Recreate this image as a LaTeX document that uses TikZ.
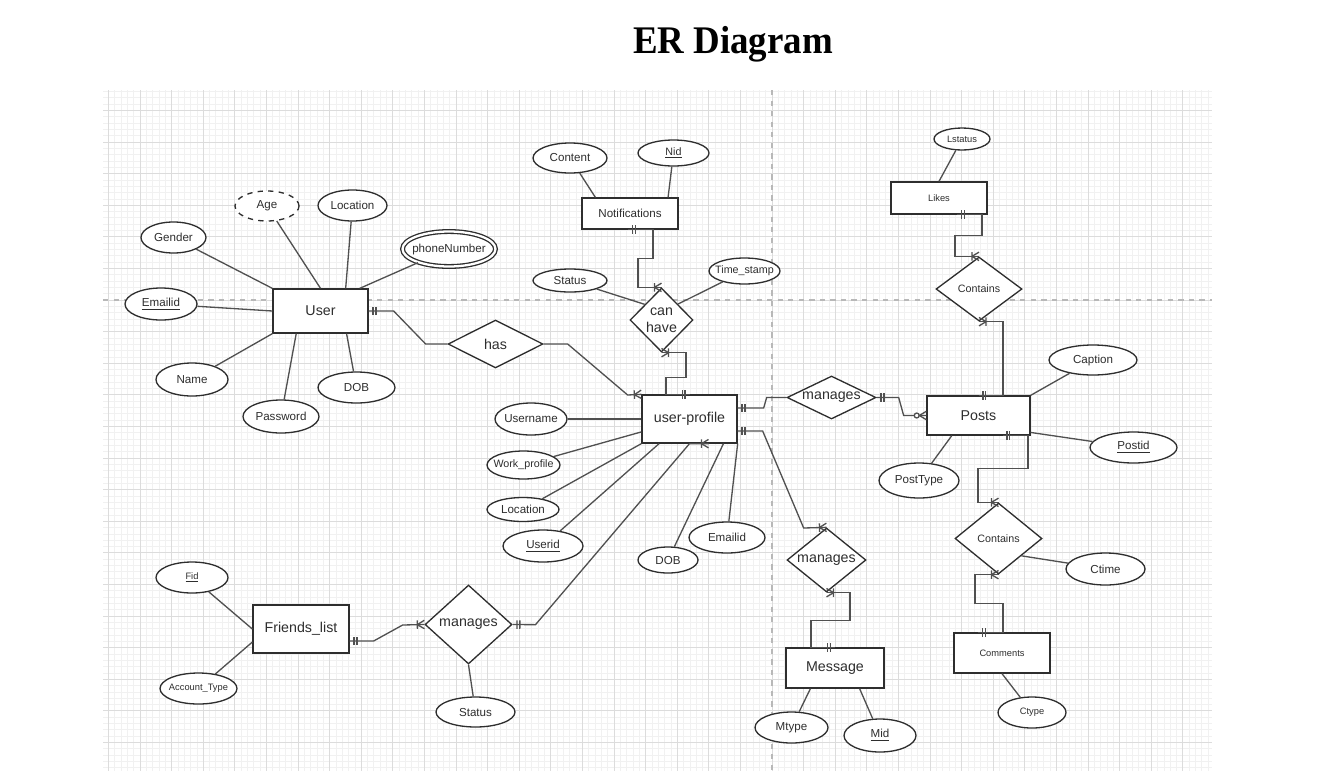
\documentclass[tikz,border=0pt]{standalone}
\usepackage{fontspec}
\usepackage{graphicx}
\setmainfont{Liberation Sans}
\newfontfamily\titlefont{Liberation Serif}
\usetikzlibrary{shapes.geometric,calc,decorations.markings}
\definecolor{cink}{HTML}{2E2E2E}
\definecolor{cwire}{HTML}{505050}
\definecolor{cminor}{HTML}{F1F1F1}
\definecolor{cmajor}{HTML}{DCDCDC}
\definecolor{cguide}{HTML}{B8B8B8}
\newcommand{\bigtxt}{\fontsize{8.1}{9.6}\selectfont}
\newcommand{\midtxt}{\fontsize{6.6}{8}\selectfont}
\newcommand{\smalltxt}{\fontsize{6.1}{7.3}\selectfont}
\newcommand{\tinytxt}{\fontsize{5.3}{6.4}\selectfont}
\tikzset{
  minorline/.style={draw=cminor, line width=0.4pt},
  majorline/.style={draw=cmajor, line width=0.5pt},
  guideline/.style={draw=cguide, line width=0.6pt, dashed},
  entity/.style={rectangle, draw=cink, line width=0.75pt, fill=white, text=cink, inner sep=0pt},
  relation/.style={diamond, draw=cink, line width=0.75pt, fill=white, text=cink, inner sep=0pt, align=center},
  attrlabel/.style={text=cink, font=\midtxt},
  attr/.style={ellipse, draw=cink, line width=0.75pt, fill=white, inner sep=0pt, label={[attrlabel]center:#1}},
  wire/.style={color=cwire, line width=0.75pt},
  tick/.style={draw=cwire, line width=0.75pt},
  one at start/.style={postaction={decorate, decoration={markings,
      mark=at position 2.5pt with {\draw[tick] (0,-2.4pt) -- (0,2.4pt);},
      mark=at position 4.1pt with {\draw[tick] (0,-2.4pt) -- (0,2.4pt);}}}},
  one at end/.style={postaction={decorate, decoration={markings,
      mark=at position -4.1pt with {\draw[tick] (0,-2.4pt) -- (0,2.4pt);},
      mark=at position -2.5pt with {\draw[tick] (0,-2.4pt) -- (0,2.4pt);}}}},
  many at start/.style={postaction={decorate, decoration={markings,
      mark=at position 4pt with {\draw[tick] (0,-2.4pt) -- (0,2.4pt) (-4pt,-2.4pt) -- (0,0) -- (-4pt,2.4pt);}}}},
  many at end/.style={postaction={decorate, decoration={markings,
      mark=at position -4pt with {\draw[tick] (0,-2.4pt) -- (0,2.4pt) (4pt,-2.4pt) -- (0,0) -- (4pt,2.4pt);}}}},
  zero many at end/.style={postaction={decorate, decoration={markings,
      mark=at position -4pt with {\draw[tick] (4pt,-2.4pt) -- (0,0) -- (4pt,2.4pt); \draw[tick, fill=white] (-1.5pt,0) circle (1.4pt);}}}}
}
\begin{document}
\begin{tikzpicture}[x=0.02cm, y=-0.02cm]
  \useasboundingbox (0,0) rectangle (1327,771);
  \foreach \k in {-105,...,69}
    \draw[minorline] (772+\k*6.32,90) -- (772+\k*6.32,771);
  \foreach \k in {-33,...,74}
    \draw[minorline] (103,300+\k*6.32) -- (1212,300+\k*6.32);
  \foreach \k in {-21,...,13}
    \draw[majorline] (772+\k*31.6,90) -- (772+\k*31.6,771);
  \foreach \k in {-6,...,14}
    \draw[majorline] (103,300+\k*31.6) -- (1212,300+\k*31.6);
  \draw[guideline] (772,90) -- (772,771);
  \draw[guideline] (103,300) -- (1212,300);

  \node[font=\titlefont\bfseries\fontsize{21}{25}\selectfont] (title) at (733,44) {\scalebox{1}[1.06]{ER Diagram}};

  \node[entity, minimum width=1.9cm, minimum height=0.88cm, font=\bigtxt] (user) at (320.5,311) {User};
  \node[entity, minimum width=1.92cm, minimum height=0.62cm, font=\midtxt] (notif) at (630,213.5) {Notifications};
  \node[entity, minimum width=1.9cm, minimum height=0.96cm, font=\bigtxt] (upro) at (689.5,419) {user-profile};
  \node[entity, minimum width=1.92cm, minimum height=0.64cm, font=\tinytxt] (likes) at (939,198) {Likes};
  \node[entity, minimum width=2.06cm, minimum height=0.78cm, font=\bigtxt] (posts) at (978.5,415.5) {Posts};
  \node[entity, minimum width=1.92cm, minimum height=0.96cm, font=\bigtxt] (friends) at (301,629) {Friends\_list};
  \node[entity, minimum width=1.96cm, minimum height=0.8cm, font=\bigtxt] (message) at (835,668) {Message};
  \node[entity, minimum width=1.92cm, minimum height=0.8cm, font=\tinytxt] (comments) at (1002,653) {Comments};

  \node[relation, minimum width=1.9cm, minimum height=0.96cm, aspect=2, font=\bigtxt] (has) at (495.5,344) {has};
  \node[relation, minimum width=1.26cm, minimum height=1.28cm, font=\bigtxt] (canhave) at (661.5,320) {can\\have};
  \node[relation, minimum width=1.78cm, minimum height=0.86cm, aspect=2, font=\bigtxt] (mgpost) at (831.5,397.5) {manages};
  \node[relation, minimum width=1.72cm, minimum height=1.28cm, font=\smalltxt] (ctlike) at (979,289) {Contains};
  \node[relation, minimum width=1.58cm, minimum height=1.28cm, aspect=1.2, font=\bigtxt] (mgmsg) at (826.5,560) {manages};
  \node[relation, minimum width=1.74cm, minimum height=1.42cm, font=\smalltxt] (ctcom) at (998.5,538.5) {Contains};
  \node[relation, minimum width=1.74cm, minimum height=1.58cm, font=\bigtxt] (mgfr) at (468.5,624.5) {manages};

  \node[attr=Age, dashed, minimum width=1.28cm, minimum height=0.6cm] (age) at (267,206) {};
  \node[attr=Location, minimum width=1.38cm, minimum height=0.62cm] (uloc) at (352.5,205.5) {};
  \node[attr=Gender, minimum width=1.3cm, minimum height=0.62cm] (gender) at (173.5,237.5) {};
  \node[attr=phoneNumber, double=white, double distance=1.3pt, minimum width=1.86cm, minimum height=0.7cm] (phone) at (449,249) {};
  \node[attr={\underline{Emailid}}, minimum width=1.44cm, minimum height=0.64cm] (uemail) at (161,304) {};
  \node[attr=Name, minimum width=1.44cm, minimum height=0.66cm] (name) at (192,379.5) {};
  \node[attr=Password, minimum width=1.52cm, minimum height=0.66cm] (password) at (281,416.5) {};
  \node[attr=DOB, minimum width=1.54cm, minimum height=0.62cm] (udob) at (356.5,387.5) {};
  \node[attr=Content, minimum width=1.48cm, minimum height=0.6cm] (content) at (570,158) {};
  \node[attr={\smalltxt\underline{Nid}}, minimum width=1.42cm, minimum height=0.52cm] (nid) at (673.5,153) {};
  \node[attr=Status, minimum width=1.48cm, minimum height=0.46cm] (nstatus) at (570,280.5) {};
  \node[attr={\smalltxt Time\_stamp}, minimum width=1.42cm, minimum height=0.52cm] (tstamp) at (744.5,271) {};
  \node[attr={\tinytxt Lstatus}, minimum width=1.12cm, minimum height=0.44cm] (lstatus) at (962,139) {};
  \node[attr=Caption, minimum width=1.76cm, minimum height=0.6cm] (caption) at (1093,360) {};
  \node[attr={\underline{Postid}}, minimum width=1.74cm, minimum height=0.62cm] (postid) at (1133.5,447.5) {};
  \node[attr=PostType, minimum width=1.6cm, minimum height=0.7cm] (posttype) at (919,480.5) {};
  \node[attr=Ctime, minimum width=1.58cm, minimum height=0.64cm] (ctime) at (1105.5,569) {};
  \node[attr={\tinytxt Ctype}, minimum width=1.36cm, minimum height=0.62cm] (ctype) at (1032,712.5) {};
  \node[attr=Mtype, minimum width=1.46cm, minimum height=0.62cm] (mtype) at (791.5,727.5) {};
  \node[attr={\underline{Mid}}, minimum width=1.44cm, minimum height=0.66cm] (mid) at (880,735.5) {};
  \node[attr=Username, minimum width=1.44cm, minimum height=0.64cm] (username) at (531,419) {};
  \node[attr={\smalltxt Work\_profile}, minimum width=1.46cm, minimum height=0.56cm] (workp) at (523.5,465) {};
  \node[attr=Location, minimum width=1.44cm, minimum height=0.48cm] (ploc) at (523,509.5) {};
  \node[attr={\underline{Userid}}, minimum width=1.6cm, minimum height=0.64cm] (userid) at (543,546) {};
  \node[attr=DOB, minimum width=1.2cm, minimum height=0.52cm] (pdob) at (668,560) {};
  \node[attr=Emailid, minimum width=1.52cm, minimum height=0.62cm] (pemail) at (727,537.5) {};
  \node[attr={\tinytxt\underline{Fid}}, minimum width=1.44cm, minimum height=0.62cm] (fid) at (192,577.5) {};
  \node[attr={\tinytxt Account\_Type}, minimum width=1.54cm, minimum height=0.62cm] (acctype) at (198.5,688.5) {};
  \node[attr=Status, minimum width=1.58cm, minimum height=0.6cm] (fstatus) at (475.5,712) {};

  \begin{scope}[wire]
    \draw (gender) -- (user.north west);
    \draw (age) -- (user.north);
    \draw (uloc) -- (user.42);
    \draw (phone) -- (user.30);
    \draw (uemail) -- (user.west);
    \draw (name) -- (user.south west);
    \draw (password) -- (user.223);
    \draw (udob) -- (user.319);
    \draw (content) -- (notif.155);
    \draw (nid) -- (notif.23);
    \draw (nstatus) -- (canhave.137);
    \draw (tstamp) -- (canhave.44);
    \draw (lstatus) -- (likes.north);
    \draw (caption) -- (posts.north east);
    \draw (postid) -- (posts.342);
    \draw (posttype) -- (posts.217);
    \draw (ctime) -- (ctcom.323);
    \draw (ctype) -- (comments.south);
    \draw (mtype) -- (message.220);
    \draw (mid) -- (message.320);
    \draw (username) -- (upro.west);
    \draw (workp) -- (upro.195);
    \draw (ploc) -- (upro.south west);
    \draw (userid) -- (upro.219);
    \draw (pdob) -- (upro.324);
    \draw (pemail) -- (upro.south east);
    \draw (fid) -- (friends.west);
    \draw (acctype) -- (friends.195);
    \draw (fstatus) -- (mgfr.south);
  \end{scope}

  \begin{scope}[wire]
    \draw[one at start] (user.east) -- ++(25,0) -- ++(32,33) -- (has.west);
    \draw[many at end] (has.east) -- ++(24,0) -- ++(60,51) -- (upro.north west);
    \draw[one at start, many at end] ($(notif.south)+(-2,0)$) -- ++(25,0) -- ++(0,29) -- ++(-15,0) |- (canhave.north);
    \draw[many at start, one at end] (canhave.south) -- ++(24.5,0) -- ++(0,25) -- ++(-20,0) |- (upro.north);
    \draw[one at start] ($(upro.east)+(0,-11)$) -- ++(26,0) -- ++(3,-10.5) -- (mgpost.west);
    \draw[one at start, zero many at end] (mgpost.east) -- ++(22,0) -- ++(5,18) -- (posts.west);
    \draw[one at start, many at end] ($(upro.east)+(0,12)$) -- ++(25,0) -- ++(41,97) -- (mgmsg.north);
    \draw[many at start, one at end] (mgmsg.south) -- ++(23.5,0) -- ++(0,28) -- ++(-39,0) |- (message.north);
    \draw[one at start, many at end] ($(likes.south)+(18,0)$) -- ++(25,0) -- ++(0,21) -- ++(-27,0) |- (ctlike.north);
    \draw[one at start, many at end] (posts.north) -- ++(24.5,0) |- (ctlike.south);
    \draw[one at start, many at end] ($(posts.south)+(24,0)$) -- ++(25.5,0) -- ++(0,33) -- ++(-50,0) |- (ctcom.north);
    \draw[many at start, one at end] (ctcom.south) -- ++(-23.5,0) -- ++(0,29) -- ++(28,0) |- ($(comments.north)+(-24,0)$);
    \draw[many at start, one at end] ($(upro.south)+(19,0)$) -- (upro.south) -- ++(-154,181) -- (mgfr.east);
    \draw[one at start, many at end] ($(friends.east)+(0,12)$) -- ++(24,0) -- ++(29,-16) -- (mgfr.west);
  \end{scope}
\end{tikzpicture}
\end{document}
